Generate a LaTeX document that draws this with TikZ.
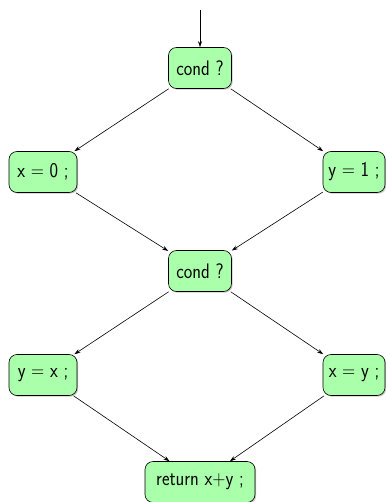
\documentclass[tikz,border=0pt]{standalone}
\usepackage{graphicx}
\usetikzlibrary{shadows,arrows.meta}
\newcommand{\nar}[1]{\scalebox{0.86}[1]{#1}}
\begin{document}
\begin{tikzpicture}[x=1pt,y=-1pt,
  box/.style={draw=black, line width=0.6pt, fill={rgb,255:red,170;green,255;blue,170}, rounded corners=8pt,
    minimum height=41pt, inner xsep=2pt, font=\sffamily\fontsize{21}{23}\selectfont,
    drop shadow={shadow xshift=1.2pt, shadow yshift=-1.2pt, fill=black!45}},
  edge/.style={draw, line width=0.6pt, -{Stealth[length=6pt,width=4pt]}}]
\useasboundingbox (0,0) rectangle (385,502);
\coordinate (top) at (200,10);
\node[box, minimum width=63pt] (c1) at (200,68) {\nar{cond ?}};
\node[box, minimum width=68pt] (a1) at (43,172) {\nar{x = 0 ;}};
\node[box, minimum width=62pt] (b1) at (354,172) {\nar{y = 1 ;}};
\node[box, minimum width=63pt] (c2) at (200,271) {\nar{cond ?}};
\node[box, minimum width=68pt] (a2) at (43,375) {\nar{y = x ;}};
\node[box, minimum width=62pt] (b2) at (354,375) {\nar{x = y ;}};
\node[box, minimum width=110pt] (r) at (200,482) {\nar{return x+y ;}};
\draw[edge] (top) -- (c1);
\draw[edge] (c1) -- (a1);
\draw[edge] (c1) -- (b1);
\draw[edge] (a1) -- (c2);
\draw[edge] (b1) -- (c2);
\draw[edge] (c2) -- (a2);
\draw[edge] (c2) -- (b2);
\draw[edge] (a2) -- (r);
\draw[edge] (b2) -- (r);
\end{tikzpicture}
\end{document}
